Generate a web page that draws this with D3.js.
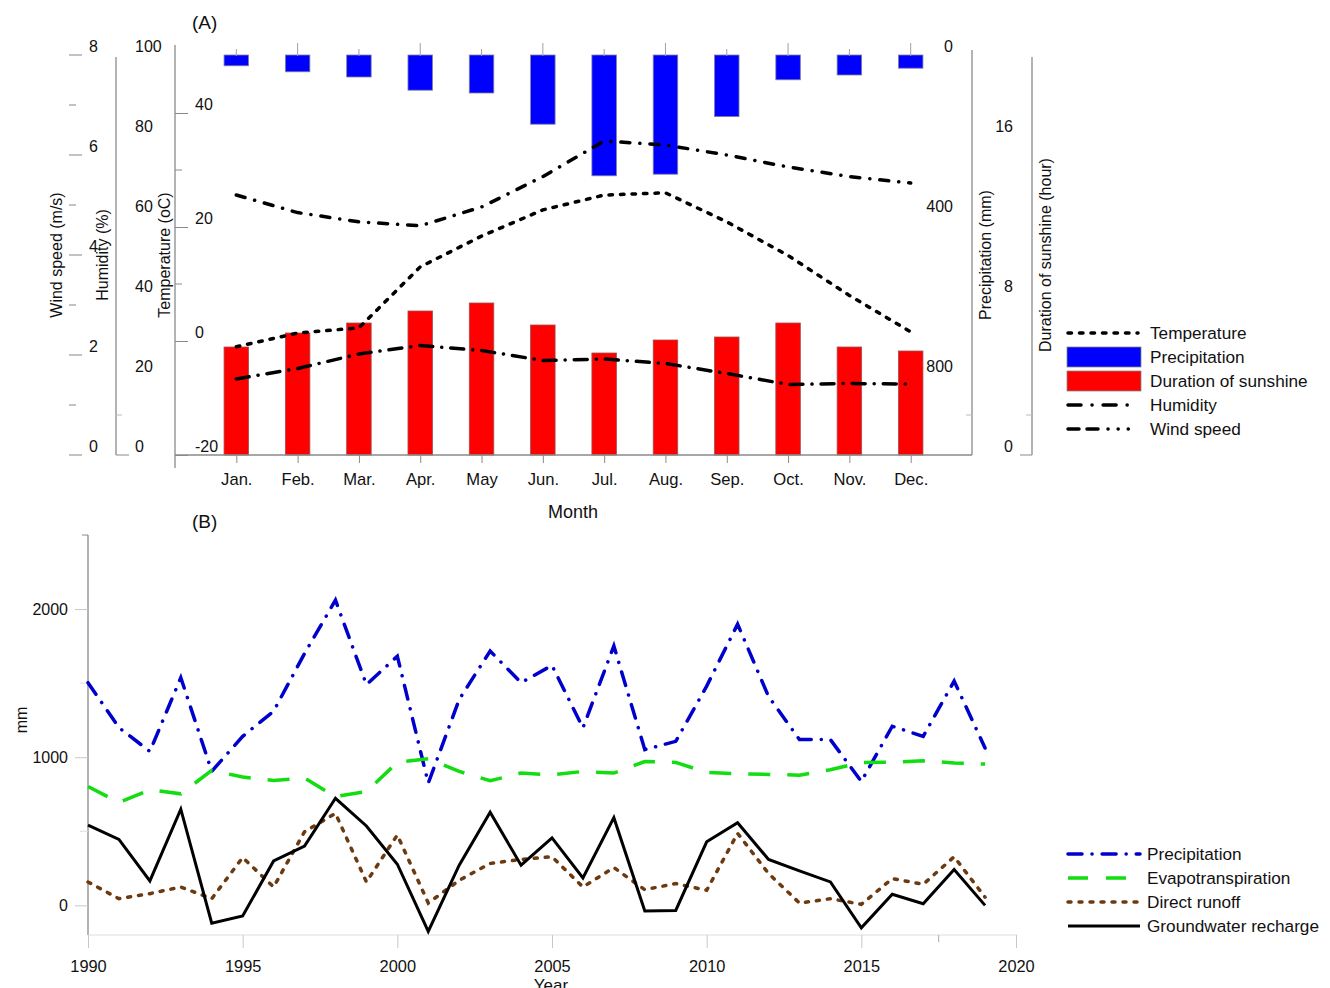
<!DOCTYPE html>
<html>
<head>
<meta charset="utf-8">
<script src="https://cdn.jsdelivr.net/npm/d3@7"></script>
<style>
  html, body { margin: 0; padding: 0; background: #fff; }
  svg { display: block; font-family: "Liberation Sans", Arial, sans-serif; }
  text { fill: #111; }
</style>
</head>
<body>
<svg id="chart" width="1330" height="988"></svg>
<script>
// ---------- Panel A: monthly climate ----------
const months = ["Jan.", "Feb.", "Mar.", "Apr.", "May", "Jun.", "Jul.", "Aug.", "Sep.", "Oct.", "Nov.", "Dec."];
const temperature = [-1.0, 1.4, 2.3, 13.0, 18.4, 23.0, 25.6, 26.0, 20.9, 15.0, 8.0, 1.6];      // °C
const precipitation = [27, 42, 55, 88, 95, 173, 302, 298, 154, 62, 50, 33];                      // mm
const sunshine = [5.4, 6.1, 6.6, 7.2, 7.6, 6.5, 5.1, 5.75, 5.9, 6.6, 5.4, 5.2];                  // hour
const humidity = [65, 60.6, 58.3, 57.3, 62, 69.6, 78.5, 77.5, 75, 72, 69.6, 68];                 // %
const windSpeed = [1.52, 1.73, 2.02, 2.19, 2.09, 1.89, 1.92, 1.83, 1.63, 1.41, 1.43, 1.42];      // m/s

const tempTicks = [-20, 0, 20, 40];
const humTicks = [0, 20, 40, 60, 80, 100];
const windTicks = [0, 2, 4, 6, 8];
const precTicks = [0, 400, 800];
const sunTicks = [0, 8, 16];

// ---------- Panel B: annual water balance ----------
const years = d3.range(1990, 2020);
const annualPrecip = [1503, 1200, 1039, 1537, 905, 1141, 1311, 1700, 2060, 1490,
                      1682, 825, 1390, 1717, 1503, 1620, 1198, 1751, 1051, 1107,
                      1480, 1898, 1410, 1119, 1119, 836, 1209, 1141, 1514, 1062];
const evapotranspiration = [802, 694, 780, 753, 911, 866, 843, 859, 734, 768,
                            965, 990, 904, 841, 893, 881, 904, 893, 971, 965,
                            897, 888, 884, 879, 915, 965, 967, 976, 961, 954];
const directRunoff = [158, 45, 79, 124, 45, 323, 124, 497, 621, 158,
                      475, 16, 169, 283, 310, 328, 124, 255, 106, 147,
                      102, 486, 215, 16, 45, 7, 181, 142, 328, 55];
const groundwaterRecharge = [542, 445, 165, 649, -120, -72, 300, 400, 723, 536,
                             278, -176, 271, 628, 271, 456, 185, 592, -38, -34,
                             429, 558, 310, 233, 158, -151, 75, 11, 242, 0];
const yearTicks = [1990, 1995, 2000, 2005, 2010, 2015, 2020];
const mmTicks = [0, 1000, 2000];

const svg = d3.select("#chart");
const AX = "#8a8a8a";
const FS = 16;
const FS_LEG = 17.2;
const plain = d => String(d);   // hyphen-minus, no thousands separator

// ===================== Panel A =====================
const A = svg.append("g");
const xM = d3.scaleLinear().domain([0, 13]).range([175, 972]);
const yTemp = d3.scaleLinear().domain([-20, 40]).range([455, 113]);
const yHum = d3.scaleLinear().domain([0, 100]).range([455, 55]);
const yWind = d3.scaleLinear().domain([0, 8]).range([455, 55]);
const yPrec = d3.scaleLinear().domain([0, 800]).range([55, 375]);
const ySun = d3.scaleLinear().domain([0, 16]).range([455, 135]);
const barW = 24.5;

function styleAxis(g, dy, fs) {
  g.select(".domain").remove();
  g.selectAll(".tick line").attr("stroke", AX);
  g.selectAll(".tick text").attr("font-size", fs || FS).attr("dy", dy).attr("fill", "#111")
    .style("font-family", "Liberation Sans, Arial, sans-serif");
}

// precipitation bars hang from the top
A.append("g").selectAll("rect").data(precipitation).join("rect")
  .attr("x", (d, i) => xM(i + 1) - barW / 2)
  .attr("y", yPrec(0))
  .attr("width", barW)
  .attr("height", d => yPrec(d) - yPrec(0))
  .attr("fill", "#0000ff").attr("stroke", "#8080a0").attr("stroke-width", 0.8);

// sunshine bars stand on the bottom
A.append("g").selectAll("rect").data(sunshine).join("rect")
  .attr("x", (d, i) => xM(i + 1) - barW / 2)
  .attr("y", d => ySun(d))
  .attr("width", barW)
  .attr("height", d => ySun(0) - ySun(d))
  .attr("fill", "#ff0000").attr("stroke", "#a05050").attr("stroke-width", 0.8);

// frame lines
A.append("line").attr("x1", 175).attr("x2", 175).attr("y1", 45).attr("y2", 468).attr("stroke", AX).attr("stroke-width", 1.3);
A.append("line").attr("x1", 175).attr("x2", 972).attr("y1", 455).attr("y2", 455).attr("stroke", AX).attr("stroke-width", 1.3);
A.append("line").attr("x1", 116).attr("x2", 116).attr("y1", 57).attr("y2", 455).attr("stroke", AX).attr("stroke-width", 1.3);
A.append("line").attr("x1", 972).attr("x2", 972).attr("y1", 50).attr("y2", 455).attr("stroke", AX).attr("stroke-width", 1.3);
A.append("line").attr("x1", 1032).attr("x2", 1032).attr("y1", 57).attr("y2", 455).attr("stroke", AX).attr("stroke-width", 1.3);

// month axis (bottom)
const monthAxis = d3.axisBottom(xM).tickValues(d3.range(1, 13)).tickSize(8).tickPadding(10)
  .tickFormat(d => months[d - 1]);
A.append("g").attr("transform", "translate(0,455)").call(monthAxis).call(g => styleAxis(g, "0.71em", 16.6));

// month ticks along the top
A.append("g").selectAll("line").data(d3.range(1, 13)).join("line")
  .attr("x1", d => xM(d)).attr("x2", d => xM(d))
  .attr("y1", d => (d % 2 === 0 ? 43 : 49)).attr("y2", 56)
  .attr("stroke", "#a0a0a0").attr("stroke-width", 1);

// temperature axis
A.append("g").attr("transform", "translate(175,0)")
  .call(d3.axisRight(yTemp).tickValues(tempTicks).tickSize(13).tickPadding(7).tickFormat(plain))
  .call(g => styleAxis(g, "-0.25em"));
A.append("g").selectAll("line").data([10, 30]).join("line")
  .attr("x1", 175).attr("x2", 182).attr("y1", d => yTemp(d)).attr("y2", d => yTemp(d)).attr("stroke", AX);

// humidity axis
A.append("g").attr("transform", "translate(116,0)")
  .call(d3.axisRight(yHum).tickValues(humTicks).tickSize(0).tickPadding(19).tickFormat(plain))
  .call(g => styleAxis(g, "-0.2em"));
A.append("line").attr("x1", 116).attr("x2", 129).attr("y1", yHum(0)).attr("y2", yHum(0)).attr("stroke", AX);
A.append("line").attr("x1", 116).attr("x2", 122).attr("y1", yHum(10)).attr("y2", yHum(10)).attr("stroke", "#bbb");

// wind speed axis (ticks only)
A.append("g").attr("transform", "translate(82,0)")
  .call(d3.axisRight(yWind).tickValues(windTicks).tickSize(0).tickPadding(7).tickFormat(plain))
  .call(g => styleAxis(g, "-0.2em"));
A.append("g").selectAll("line").data(d3.range(0, 9)).join("line")
  .attr("x1", 69).attr("x2", d => (d % 2 === 0 ? 82 : 76))
  .attr("y1", d => yWind(d)).attr("y2", d => yWind(d))
  .attr("stroke", "#999").attr("stroke-width", 1.2);

// precipitation axis (reversed)
A.append("g").attr("transform", "translate(972,0)")
  .call(d3.axisLeft(yPrec).tickValues(precTicks).tickSize(0).tickPadding(19).tickFormat(plain))
  .call(g => styleAxis(g, "-0.2em"));
A.append("line").attr("x1", 966).attr("x2", 972).attr("y1", yPrec(900)).attr("y2", yPrec(900)).attr("stroke", "#bbb");

// sunshine axis
A.append("g").attr("transform", "translate(1032,0)")
  .call(d3.axisLeft(ySun).tickValues(sunTicks).tickSize(0).tickPadding(19).tickFormat(plain))
  .call(g => styleAxis(g, "-0.2em"));
A.append("line").attr("x1", 1020).attr("x2", 1032).attr("y1", ySun(0)).attr("y2", ySun(0)).attr("stroke", AX);
A.append("line").attr("x1", 1026).attr("x2", 1032).attr("y1", ySun(2)).attr("y2", ySun(2)).attr("stroke", "#bbb");

// axis titles
function vTitle(x, y, t) {
  svg.append("text").attr("transform", `translate(${x},${y}) rotate(-90)`)
    .attr("text-anchor", "middle").attr("font-size", FS).text(t);
}
vTitle(62, 255, "Wind speed (m/s)");
vTitle(108, 255, "Humidity (%)");
vTitle(170, 255, "Temperature (oC)");
vTitle(991, 255, "Precipitation (mm)");
vTitle(1051, 255, "Duration of sunshine (hour)");
svg.append("text").attr("x", 573).attr("y", 518).attr("text-anchor", "middle").attr("font-size", 18).text("Month");
svg.append("text").attr("x", 192).attr("y", 29).attr("font-size", 19).text("(A)");

// climate lines
const lineStyles = {
  temp: { dash: "3.5,8", cap: "round", w: 3.5 },
  hum: { dash: "9,10,0.1,10", cap: "round", w: 3.5 },
  wind: { dash: "13,9,0.1,9", cap: "round", w: 3.5 }
};
function monthLine(values, scale, st) {
  const gen = d3.line().x((d, i) => xM(i + 1)).y(d => scale(d));
  A.append("path").datum(values).attr("d", gen).attr("fill", "none")
    .attr("stroke", "#000").attr("stroke-width", st.w)
    .attr("stroke-dasharray", st.dash).attr("stroke-linecap", st.cap);
}
monthLine(temperature, yTemp, lineStyles.temp);
monthLine(humidity, yHum, lineStyles.hum);
monthLine(windSpeed, yWind, lineStyles.wind);

// legend A
const legA = svg.append("g");
const legAItems = [
  { label: "Temperature", type: "line", st: { dash: "3.5,8", cap: "round", w: 3.5 }, y: 333 },
  { label: "Precipitation", type: "rect", fill: "#0000ff", y: 357 },
  { label: "Duration of sunshine", type: "rect", fill: "#ff0000", y: 381 },
  { label: "Humidity", type: "line", st: { dash: "13,11,0.1,11", cap: "round", w: 3.5 }, y: 405 },
  { label: "Wind speed", type: "line", st: { dash: "11,8,11,10,0.1,10,0.1,10,0.1,30", cap: "round", w: 3.5 }, y: 429 }
];
legAItems.forEach(it => {
  if (it.type === "rect") {
    legA.append("rect").attr("x", 1067).attr("y", it.y - 10).attr("width", 74).attr("height", 20)
      .attr("fill", it.fill).attr("stroke", "#888").attr("stroke-width", 0.8);
  } else {
    legA.append("line").attr("x1", 1068).attr("x2", 1138).attr("y1", it.y).attr("y2", it.y)
      .attr("stroke", "#000").attr("stroke-width", it.st.w)
      .attr("stroke-dasharray", it.st.dash).attr("stroke-linecap", it.st.cap);
  }
  legA.append("text").attr("x", 1150).attr("y", it.y).attr("dy", "0.35em").attr("font-size", FS_LEG).text(it.label);
});

// ===================== Panel B =====================
const B = svg.append("g");
const xY = d3.scaleLinear().domain([1990, 2020]).range([88, 1016]);
const yB = d3.scaleLinear().domain([-200, 2500]).range([935, 535]);

B.append("line").attr("x1", 88).attr("x2", 88).attr("y1", 535).attr("y2", 935).attr("stroke", AX).attr("stroke-width", 1.3);
B.append("line").attr("x1", 88).attr("x2", 1017).attr("y1", 935).attr("y2", 935).attr("stroke", "#ddd").attr("stroke-width", 1.2);

B.append("g").attr("transform", "translate(88,0)")
  .call(d3.axisLeft(yB).tickValues(mmTicks).tickSize(13).tickPadding(7).tickFormat(plain))
  .call(g => styleAxis(g, "0.32em"));
B.append("g").selectAll("line").data([500, 1500, 2500]).join("line")
  .attr("x1", d => (d === 2500 ? 82 : 80)).attr("x2", 88)
  .attr("y1", d => yB(d)).attr("y2", d => yB(d)).attr("stroke", d => (d === 2500 ? AX : "#ddd"));

B.append("g").attr("transform", "translate(0,935)")
  .call(d3.axisBottom(xY).tickValues(yearTicks).tickSize(13).tickPadding(12).tickFormat(plain))
  .call(g => styleAxis(g, "0.71em", 16.4));
B.selectAll(".tick line").attr("stroke", "#c8c8c8");
B.append("line").attr("x1", xY(2017.5)).attr("x2", xY(2017.5)).attr("y1", 935).attr("y2", 942).attr("stroke", "#aaa");

vTitle(27, 720, "mm");
svg.append("text").attr("x", 551).attr("y", 991).attr("text-anchor", "middle").attr("font-size", 17).text("Year");
svg.append("text").attr("x", 192).attr("y", 528).attr("font-size", 19).text("(B)");

const seriesB = [
  { label: "Precipitation", values: annualPrecip, color: "#0000cc", dash: "14,10,0.1,10", cap: "round", w: 3.5 },
  { label: "Evapotranspiration", values: evapotranspiration, color: "#11dd11", dash: "22,17", cap: "butt", w: 3.5 },
  { label: "Direct runoff", values: directRunoff, color: "#6b3a10", dash: "3,8", cap: "round", w: 3.5 },
  { label: "Groundwater recharge", values: groundwaterRecharge, color: "#000", dash: null, cap: "butt", w: 3 }
];
const lineB = d3.line().x((d, i) => xY(years[i])).y(d => yB(d));
seriesB.forEach(s => {
  B.append("path").datum(s.values).attr("d", lineB).attr("fill", "none")
    .attr("stroke", s.color).attr("stroke-width", s.w)
    .attr("stroke-dasharray", s.dash).attr("stroke-linecap", s.cap)
    .attr("stroke-linejoin", "miter");
});

// legend B
const legB = svg.append("g");
seriesB.forEach((s, i) => {
  const y = 854 + i * 24;
  legB.append("line").attr("x1", 1068).attr("x2", 1140).attr("y1", y).attr("y2", y)
    .attr("stroke", s.color).attr("stroke-width", s.w)
    .attr("stroke-dasharray", s.label === "Evapotranspiration" ? "20,18" : s.dash)
    .attr("stroke-linecap", s.cap);
  legB.append("text").attr("x", 1147).attr("y", y).attr("dy", "0.35em").attr("font-size", FS_LEG).text(s.label);
});
</script>
</body>
</html>
